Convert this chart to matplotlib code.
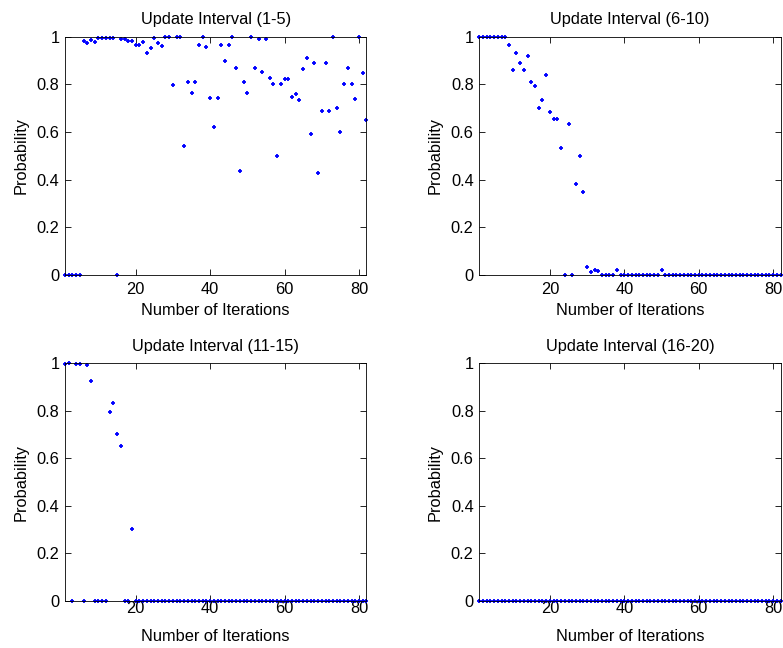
import numpy as np
import matplotlib
matplotlib.use("Agg")
import matplotlib.pyplot as plt

plt.rcParams['font.family'] = ['Liberation Sans', 'DejaVu Sans']
plt.rcParams['font.size'] = 11.8

iterations = np.arange(1, 83)

titles = ["Update Interval (1-5)", "Update Interval (6-10)",
          "Update Interval (11-15)", "Update Interval (16-20)"]

# interval 1-5
prob_1_5 = [0, 0, 0, 0, 0,
            .982, .976, .986, .980, .994, .994, .997, .994, .994, 0,
            .992, .990, .983, .983, .968, .968, .978, .933, .955, .996,
            .976, .962, 1, 1, .797, 1, 1, .542, .810, .765,
            .810, .968, 1, .959, .742, .622, .742, .968, .898, .968,
            1, .868, .435, .810, .765, 1, .868, .990, .854, .990,
            .829, .800, .500, .800, .824, .824, .749, .759, .733, .866,
            .910, .590, .891, .426, .690, .891, .690, 1, .700, .600,
            .800, .868, .800, .739, 1, .849, .650]

# interval 6-10
prob_6_10 = [1, 1, 1, 1, 1, 1, 1, 1,
             .965, .862, .933, .891, .862, .920, .810, .793, .701, .736,
             .839, .684, .655, .655, .531, 0, .635, 0, .380, .499, .348,
             .032, .010, .018, .014, 0, 0, 0, 0, .018,
             0, 0, 0, 0, 0, 0, 0, 0, 0, 0, 0, .018] + [0] * 32

# interval 11-15
prob_11_15 = [.995, 1, 0, .998, .998, 0, .992, .924, 0, 0, 0, 0,
              .794, .833, .704, .650, 0, 0, .302] + [0] * 63

# interval 16-20
prob_16_20 = [0] * 82

series = [prob_1_5, prob_6_10, prob_11_15, prob_16_20]

fig = plt.figure(figsize=(7.83, 6.48), dpi=100)
positions = [[0.083, 0.576, 0.385, 0.367], [0.612, 0.576, 0.385, 0.367],
             [0.083, 0.0725, 0.385, 0.367], [0.612, 0.0725, 0.385, 0.367]]
xpads = [5, 5, 0, 0]

for pos, title, vals, xpad in zip(positions, titles, series, xpads):
    ax = fig.add_axes(pos)
    ax.plot(iterations, vals, linestyle='none', marker='+', color='blue',
            markersize=3.5, markeredgewidth=1.3, clip_on=False)
    ax.set_xlim(1, 82)
    ax.set_ylim(0, 1)
    ax.set_xticks([20, 40, 60, 80])
    ax.set_yticks([0, 0.2, 0.4, 0.6, 0.8, 1])
    ax.set_yticklabels(["0", "0.2", "0.4", "0.6", "0.8", "1"])
    ax.tick_params(direction='in', top=True, right=True, length=4, width=0.6)
    ax.tick_params(axis='x', pad=xpad)
    ax.tick_params(axis='y', pad=4)
    for sp in ax.spines.values():
        sp.set_linewidth(0.6)
    ax.set_title(title, fontsize=11.8, pad=9)
    ax.set_xlabel("Number of Iterations")
    ax.set_ylabel("Probability")
    ax.xaxis.set_label_coords(0.5, -0.118)
    ax.yaxis.set_label_coords(-0.122, 0.5)

fig.savefig("out.png", dpi=100)
